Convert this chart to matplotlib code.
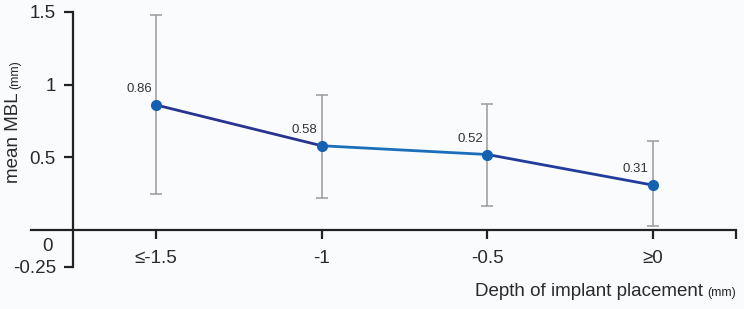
import numpy as np
import matplotlib
matplotlib.use('Agg')
import matplotlib.pyplot as plt
from matplotlib.collections import LineCollection

# datos
categorias = ['≤-1.5', '-1', '-0.5', '≥0']
media_mbl = [0.86, 0.58, 0.52, 0.31]
err_sup = [1.48, 0.93, 0.87, 0.61]
err_inf = [0.25, 0.22, 0.17, 0.03]
etiquetas = ['0.86', '0.58', '0.52', '0.31']
colores_tramo = ['#28348f', '#1b6fba', '#223c9c']

plt.rcParams['font.family'] = ['Liberation Sans', 'DejaVu Sans']
fondo = '#f9fbfd'
texto = '#2a2a2a'

fig = plt.figure(figsize=(7.44, 3.09), dpi=100, facecolor=fondo)
ax = fig.add_axes([31 / 744, (309 - 266.7) / 309, (735.7 - 31) / 744, 255 / 309])
ax.set_facecolor(fondo)

x = np.arange(len(categorias))
media = np.array(media_mbl)
yerr = [media - np.array(err_inf), np.array(err_sup) - media]

# barras de error
ax.errorbar(x, media, yerr=yerr, fmt='none', ecolor='#9a9a9a', elinewidth=1.1,
            capsize=4, capthick=1.1, zorder=2)

# linea con tramos de color
puntos = np.column_stack([x, media])
tramos = np.stack([puntos[:-1], puntos[1:]], axis=1)
ax.add_collection(LineCollection(tramos, colors=colores_tramo, linewidths=2, zorder=3))
ax.plot(x, media, 'o', color='#1560b0', markersize=7, zorder=4)

for xi, yi, et in zip(x, media, etiquetas):
    ax.annotate(et, xy=(xi, yi), xytext=(-17, 16), textcoords='offset pixels',
                ha='center', va='center', fontsize=9.5, color='#333333')

ax.set_xlim(-0.755, 3.5)
ax.set_ylim(-0.25, 1.5)

# ejes
for s in ['top', 'right']:
    ax.spines[s].set_visible(False)
ax.spines['left'].set_position(('data', -0.5))
ax.spines['bottom'].set_position(('data', 0))
ax.spines['left'].set_linewidth(1.6)
ax.spines['bottom'].set_linewidth(1.6)
ax.spines['left'].set_color('#222222')
ax.spines['bottom'].set_color('#222222')

ax.set_xticks(list(x) + [3.5])
ax.set_xticklabels(categorias + [''])
ax.set_yticks([1.5, 1, 0.5, -0.25])
ax.set_yticklabels(['1.5', '1', '0.5', '-0.25'])
ax.tick_params(axis='both', length=6.5, width=1.6, color='#222222', labelsize=13.5,
               labelcolor=texto)
ax.tick_params(axis='x', pad=8)
ax.tick_params(axis='y', pad=6)

ax.annotate('0', xy=(-0.5, 0), xytext=(-20, -16), textcoords='offset pixels',
            ha='right', va='center', fontsize=13.5, color=texto)

# titulos de los ejes
t1 = fig.text(14 / 744, (309 - 183) / 309, 'mean MBL', rotation=90, ha='center', va='bottom',
              fontsize=13.5, color=texto)
t2 = fig.text(736 / 744, (309 - 293) / 309, '(mm)', ha='right', va='center',
              fontsize=9, color=texto)
fig.canvas.draw()
r = fig.canvas.get_renderer()
b1 = t1.get_window_extent(r)
b2 = t2.get_window_extent(r)
fig.text(15 / 744, (b1.y1 + 3) / 309, '(mm)', rotation=90, ha='center', va='bottom',
         fontsize=9, color=texto)
fig.text((b2.x0 - 4) / 744, (309 - 292) / 309, 'Depth of implant placement', ha='right',
         va='center', fontsize=13.5, color=texto)

fig.savefig('out.png', dpi=100, facecolor=fondo)
